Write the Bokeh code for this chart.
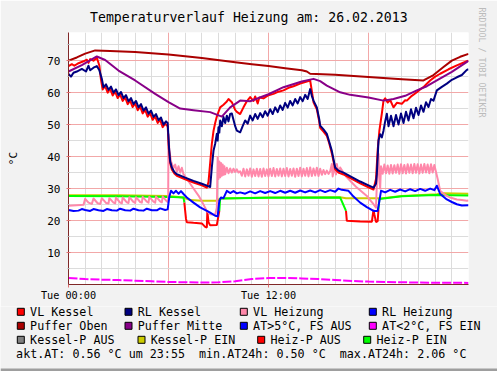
from bokeh.plotting import figure
from bokeh.models import Range1d, FixedTicker, Title
from bokeh.embed import file_html
from bokeh.resources import INLINE
from bokeh.core.properties import value

# ---------------- texts ----------------
TITLE = "Temperaturverlauf Heizung am: 26.02.2013"
Y_UNIT = "°C"
WATERMARK = "RRDTOOL / TOBI OETIKER"
INFO_LINE = "akt.AT: 0.56 °C um 23:55  min.AT24h: 0.50 °C  max.AT24h: 2.06 °C"

x_tick_hours = [0, 12]
x_tick_labels = ["Tue 00:00", "Tue 12:00"]
y_ticks = [10, 20, 30, 40, 50, 60, 70]
y_minor = [5, 15, 25, 35, 45, 55, 65, 75]

legend_labels = ["VL Kessel", "RL Kessel", "VL Heizung", "RL Heizung",
                 "Puffer Oben", "Puffer Mitte", "AT>5°C, FS AUS", "AT<2°C, FS EIN",
                 "Kessel-P AUS", "Kessel-P EIN", "Heiz-P AUS", "Heiz-P EIN"]
legend_colors = ["#FF0000", "#000080", "#FF88AA", "#0000FF",
                 "#AA0000", "#880088", "#0000FF", "#FF00FF",
                 "#808080", "#CCCC00", "#FF0000", "#00FF00"]

# ---------------- data: (hour, °C) ----------------
vl_kessel = [
    (0, 68.3), (0.2, 68.9), (0.35, 68.4), (0.6, 69.2), (0.9, 69.8), (1.1, 70.3), (1.2, 69.3), (1.3, 70.5), (1.5, 70.0), (1.7, 70.9),
    (1.85, 68.5), (1.95, 64.0), (2.05, 61.0), (2.2, 62.0), (2.35, 60.0), (2.5, 61.2), (2.65, 59.1), (2.8, 60.3), (2.95, 58.3), (3.1, 59.4),
    (3.25, 57.4), (3.4, 58.5), (3.55, 56.4), (3.7, 57.5), (3.85, 55.5), (4.0, 56.6), (4.15, 54.5), (4.3, 55.6), (4.45, 53.5), (4.6, 54.6),
    (4.75, 52.5), (4.9, 53.6), (5.05, 51.5), (5.2, 52.6), (5.35, 50.5), (5.5, 51.5), (5.65, 49.2), (5.8, 50.3), (5.95, 49.5), (6.02, 42.5),
    (6.1, 38.0), (6.2, 36.0), (6.35, 34.7), (6.5, 34.0), (7.0, 32.9), (7.5, 31.9), (8.0, 31.0), (8.3, 30.3), (8.4, 32.0), (8.5, 38.0),
    (8.6, 44.0), (8.7, 48.0), (8.8, 50.5), (8.9, 52.5), (9.0, 54.0), (9.1, 55.4), (9.3, 56.2), (9.5, 57.2), (9.6, 58.0), (9.8, 57.0),
    (10.0, 54.6), (10.1, 54.0), (10.3, 53.3), (10.5, 55.4), (10.7, 57.3), (10.9, 58.6), (11.1, 57.4), (11.2, 58.8), (11.35, 56.6), (11.45, 58.5),
    (11.7, 58.2), (12.0, 59.2), (12.3, 59.6), (12.6, 60.3), (12.9, 60.7), (13.2, 61.5), (13.5, 62.0), (13.9, 62.8), (14.2, 63.3), (14.5, 63.8),
    (14.6, 60.5), (14.7, 57.0), (14.9, 54.8), (15.05, 50.8), (15.1, 49.0), (15.3, 47.8), (15.5, 46.5), (15.65, 44.0), (15.8, 41.0), (16.0, 36.0),
    (16.2, 35.0), (16.5, 34.4), (17.0, 33.0), (17.5, 31.6), (18.0, 30.4), (18.3, 29.7), (18.45, 33.0), (18.55, 42.0), (18.65, 48.0), (18.8, 53.4),
    (18.9, 57.5), (19.0, 58.2), (19.15, 56.9), (19.3, 57.7), (19.5, 55.4), (19.7, 56.8), (20.0, 56.5), (20.2, 57.6), (20.3, 57.5), (20.6, 59.0),
    (20.9, 60.1), (21.1, 61.0), (21.3, 61.7), (21.5, 62.8), (21.7, 63.8), (22.0, 65.0), (22.3, 65.9), (22.8, 67.3), (23.3, 68.5), (23.9, 69.8), (24.0, 70.0)]

rl_kessel = [
    (0, 65.8), (0.15, 65.0), (0.3, 66.2), (0.5, 66.6), (0.8, 67.4), (1.05, 66.6), (1.2, 68.4), (1.3, 67.0), (1.5, 67.8), (1.7, 68.3),
    (1.85, 67.0), (2.0, 64.3), (2.1, 61.7), (2.25, 62.6), (2.4, 60.9), (2.55, 61.9), (2.7, 60.0), (2.85, 61.0), (3.0, 59.2), (3.15, 60.2),
    (3.3, 58.3), (3.45, 59.2), (3.6, 57.3), (3.75, 58.3), (3.9, 56.4), (4.05, 57.4), (4.2, 55.4), (4.35, 56.4), (4.5, 54.4), (4.65, 55.4),
    (4.8, 53.4), (4.95, 54.4), (5.1, 52.4), (5.25, 53.3), (5.4, 51.4), (5.55, 52.2), (5.7, 50.0), (5.85, 51.0), (5.95, 50.5), (6.03, 43.0),
    (6.1, 38.5), (6.2, 36.6), (6.35, 35.2), (6.5, 34.5), (7.0, 33.4), (7.5, 32.4), (8.0, 31.5), (8.3, 30.9), (8.5, 30.5), (8.6, 36.6),
    (8.7, 41.8), (8.8, 44.0), (8.9, 47.1), (8.95, 45.0), (9.0, 49.2), (9.05, 47.5), (9.1, 51.3), (9.2, 49.5), (9.3, 52.4), (9.4, 50.5),
    (9.5, 52.8), (9.6, 51.0), (9.7, 53.3), (9.8, 53.5), (10.0, 49.5), (10.1, 48.1), (10.3, 47.6), (10.45, 49.5), (10.6, 51.3), (10.75, 50.3),
    (10.9, 52.8), (11.05, 51.3), (11.2, 53.3), (11.35, 51.8), (11.5, 53.6), (11.65, 52.3), (11.8, 54.2), (11.95, 52.8), (12.1, 54.8), (12.25, 53.3),
    (12.4, 55.4), (12.55, 53.9), (12.7, 56.0), (12.85, 54.6), (13.0, 56.8), (13.15, 55.3), (13.3, 57.4), (13.45, 56.0), (13.6, 58.0), (13.75, 56.6),
    (13.9, 58.6), (14.05, 57.3), (14.2, 59.3), (14.35, 58.0), (14.5, 61.1), (14.6, 59.0), (14.7, 57.5), (14.9, 55.4), (15.05, 51.5), (15.1, 49.7),
    (15.3, 48.5), (15.5, 47.1), (15.65, 44.5), (15.8, 41.8), (16.0, 36.6), (16.2, 35.6), (16.5, 35.0), (17.0, 33.6), (17.5, 32.2), (18.0, 31.0),
    (18.3, 30.3), (18.45, 31.5), (18.5, 34.5), (18.6, 45.0), (18.7, 47.0), (18.8, 46.0), (18.9, 48.1), (19.0, 51.0), (19.1, 53.4), (19.2, 49.5),
    (19.35, 52.8), (19.5, 49.5), (19.65, 53.0), (19.8, 50.0), (19.95, 53.5), (20.1, 50.5), (20.25, 54.0), (20.4, 51.3), (20.55, 54.8), (20.7, 52.0),
    (20.85, 55.3), (21.0, 53.0), (21.15, 56.0), (21.3, 54.0), (21.45, 57.0), (21.6, 55.5), (21.75, 58.0), (21.9, 57.5), (22.1, 60.7), (22.4, 61.8),
    (22.7, 62.8), (23.0, 64.0), (23.3, 64.8), (23.6, 65.5), (23.9, 67.1), (24.0, 67.3)]

vl_heizung = [
    (0, 24.6), (0.5, 24.8), (0.9, 24.9), (1.0, 26.8), (1.2, 25.6), (1.4, 25.2), (1.5, 26.9), (1.75, 25.4), (1.9, 25.2), (2.0, 27.0),
    (2.25, 25.5), (2.4, 25.3), (2.45, 27.0), (2.7, 25.6), (2.8, 25.4), (2.85, 27.2), (3.1, 25.6), (3.2, 25.4), (3.25, 27.2), (3.5, 25.7),
    (3.6, 25.5), (3.65, 27.3), (3.9, 25.8), (4.0, 25.5), (4.05, 27.3), (4.3, 25.8), (4.4, 25.6), (4.45, 27.4), (4.7, 25.9), (4.8, 25.6),
    (4.85, 27.4), (5.1, 25.9), (5.2, 25.6), (5.25, 27.5), (5.5, 26.0), (5.6, 25.7), (5.65, 27.5), (5.9, 26.0), (5.98, 25.8), (6.0, 47.0),
    (6.05, 42.0), (6.15, 38.5), (6.3, 36.4), (6.4, 37.5), (6.5, 35.2), (6.6, 37.0), (6.7, 35.0), (6.8, 36.5), (6.9, 34.5), (7.2, 32.3),
    (7.5, 30.0), (7.8, 27.8), (8.0, 26.0), (8.3, 23.0), (8.5, 22.0), (8.8, 21.8), (8.9, 24.0), (8.95, 39.7), (9.0, 33.0), (9.05, 38.5),
    (9.1, 33.5), (9.15, 38.0), (9.2, 34.0), (9.25, 37.5), (9.3, 34.3), (9.35, 37.0), (9.4, 34.5), (9.5, 36.5), (9.6, 34.8), (9.7, 36.3),
    (9.8, 35.0), (9.9, 36.2), (10.0, 35.2), (10.1, 36.0), (10.2, 35.0), (10.3, 35.4), (10.4, 34.0), (10.5, 36.2), (10.6, 33.8), (10.7, 36.0),
    (10.8, 34.0), (10.9, 36.3), (11.0, 33.7), (11.1, 36.0), (11.2, 33.9), (11.3, 36.2), (11.4, 33.8), (11.5, 36.1), (11.6, 33.7), (11.7, 36.3),
    (11.8, 33.9), (11.9, 36.0), (12.0, 33.8), (12.1, 36.2), (12.2, 33.9), (12.3, 36.4), (12.4, 33.8), (12.5, 36.1), (12.6, 34.0), (12.7, 36.3),
    (12.8, 33.8), (12.9, 36.2), (13.0, 33.9), (13.1, 36.4), (13.2, 33.8), (13.3, 36.1), (13.4, 34.0), (13.5, 36.3), (13.6, 33.7), (13.7, 36.2),
    (13.8, 33.9), (13.9, 36.5), (14.0, 33.8), (14.1, 36.2), (14.2, 34.0), (14.3, 36.4), (14.4, 33.8), (14.5, 36.6), (14.6, 33.9), (14.7, 36.3),
    (14.8, 34.1), (14.9, 36.5), (15.0, 33.9), (15.1, 36.2), (15.2, 34.3), (15.3, 35.8), (15.4, 34.5), (15.5, 35.6), (15.6, 34.6), (15.7, 35.4),
    (15.8, 37.7), (15.85, 33.8), (15.95, 36.9), (16.05, 34.4), (16.1, 37.7), (16.2, 35.0), (16.3, 36.6), (16.45, 35.3), (16.7, 33.5), (17.0, 31.9),
    (17.3, 30.3), (17.6, 29.0), (17.9, 27.7), (18.1, 26.4), (18.3, 25.1), (18.45, 24.0), (18.55, 38.7), (18.6, 40.8), (18.65, 33.0), (18.7, 30.0),
    (18.75, 37.0), (18.85, 34.6), (18.95, 37.5), (19.05, 34.8), (19.15, 37.2), (19.25, 34.6), (19.35, 37.4), (19.45, 34.7), (19.55, 37.3), (19.65, 34.9),
    (19.75, 37.5), (19.85, 34.6), (19.95, 37.6), (20.05, 34.8), (20.15, 37.4), (20.25, 34.7), (20.35, 37.6), (20.45, 34.9), (20.55, 37.5), (20.65, 34.8),
    (20.75, 37.7), (20.85, 34.9), (20.95, 37.6), (21.05, 34.7), (21.15, 37.5), (21.25, 34.9), (21.35, 37.7), (21.45, 35.0), (21.55, 37.5), (21.65, 34.8),
    (21.75, 37.6), (21.85, 35.0), (21.95, 37.4), (22.05, 35.2), (22.15, 33.0), (22.3, 29.3), (22.6, 28.0), (22.9, 27.2), (23.3, 26.6), (23.6, 26.4),
    (23.9, 26.2), (24.0, 26.3)]

rl_heizung = [
    (0, 23.3), (0.3, 23.0), (0.6, 23.1), (0.8, 23.6), (1.0, 23.3), (1.3, 23.0), (1.5, 23.6), (1.8, 23.2), (2.1, 23.0), (2.3, 23.6),
    (2.6, 23.2), (2.9, 23.1), (3.1, 23.7), (3.4, 23.2), (3.7, 23.1), (3.9, 23.7), (4.2, 23.2), (4.5, 23.1), (4.7, 23.7), (5.0, 23.2),
    (5.3, 23.2), (5.5, 23.8), (5.8, 23.3), (5.95, 23.5), (6.05, 27.5), (6.15, 29.3), (6.3, 28.5), (6.45, 29.3), (6.6, 28.4), (6.75, 29.2),
    (6.9, 28.3), (7.1, 27.2), (7.5, 25.6), (7.9, 24.1), (8.5, 22.5), (8.8, 21.5), (8.95, 21.3), (9.05, 26.2), (9.15, 27.2), (9.3, 27.0),
    (9.5, 29.3), (9.7, 28.6), (9.9, 29.2), (10.1, 28.5), (10.3, 28.8), (10.6, 28.4), (10.9, 29.1), (11.2, 28.5), (11.5, 29.2), (11.8, 28.6),
    (12.1, 29.2), (12.4, 28.6), (12.7, 29.3), (13.0, 28.7), (13.3, 29.3), (13.6, 28.7), (13.9, 29.4), (14.2, 28.8), (14.5, 29.4), (14.8, 28.8),
    (15.1, 29.5), (15.4, 28.9), (15.7, 29.5), (16.0, 29.0), (16.2, 30.0), (16.4, 29.6), (16.8, 29.3), (17.1, 27.5), (17.5, 25.6), (17.9, 24.2),
    (18.3, 23.0), (18.55, 23.0), (18.65, 26.0), (18.75, 29.3), (19.0, 28.8), (19.3, 29.6), (19.6, 29.0), (19.9, 29.7), (20.2, 29.1), (20.5, 29.8),
    (20.8, 29.2), (21.1, 29.9), (21.4, 29.3), (21.7, 30.0), (21.95, 29.5), (22.1, 30.9), (22.3, 28.3), (22.7, 26.6), (23.0, 25.8), (23.3, 25.1),
    (23.6, 24.7), (24.0, 24.8)]

puffer_oben = [
    (0, 70.0), (0.5, 71.0), (1.0, 72.2), (1.6, 73.2), (2.5, 73.0), (4, 72.7), (6, 71.9), (8, 70.8), (10, 69.5), (11, 68.9),
    (12, 68.3), (13, 67.6), (14, 67.0), (14.3, 66.6), (14.5, 65.9), (16, 65.6), (18, 64.9), (20, 64.2), (21.3, 63.8), (21.9, 65.5),
    (22.5, 68.0), (23, 70.0), (23.5, 71.2), (24, 72.1)]

puffer_mitte = [
    (0, 66.6), (0.8, 68.6), (1.7, 71.3), (2.2, 70.2), (3.0, 66.9), (4.0, 63.8), (5.2, 59.6), (6.0, 57.0), (6.7, 55.0), (7.5, 54.5),
    (8.5, 53.9), (9.2, 52.5), (9.7, 55.4), (10.3, 57.5), (10.9, 57.3), (12.0, 59.5), (12.9, 61.7), (14.0, 63.5), (14.7, 64.3), (15.1, 63.6),
    (15.5, 62.2), (16.3, 60.1), (16.9, 59.3), (18.0, 58.5), (18.9, 57.5), (19.5, 58.0), (20.2, 59.0), (20.9, 60.7), (21.5, 62.0), (22.1, 63.8),
    (23.0, 66.5), (24, 69.9)]

aussen = [
    (0, 2.0), (1, 1.7), (2, 1.5), (3, 1.4), (4, 1.2), (5, 1.0), (6, 0.8), (7, 0.7), (8, 0.6), (9, 0.7),
    (10, 1.0), (11, 1.7), (12, 2.0), (13, 2.06), (14, 1.9), (15, 1.7), (16, 1.4), (17, 1.1), (18, 0.9), (19, 0.8),
    (20, 0.7), (21, 0.6), (22, 0.55), (23, 0.55), (24, 0.5)]

# pump lines: (hour, level, state of the following segment: 1 = EIN, 0 = AUS)
heiz_p = [
    (0, 27.7, 1), (3, 27.6, 1), (6, 27.4, 1), (6.9, 27.2, 1), (6.95, 25.6, 0), (7.05, 20.5, 0), (7.1, 19.5, 0), (7.5, 19.3, 0),
    (8.0, 19.1, 0), (8.2, 18.0, 0), (8.3, 17.8, 0), (8.33, 23.0, 0), (8.4, 19.5, 0), (8.5, 18.5, 0), (8.9, 18.6, 0), (9.05, 23.0, 1),
    (9.1, 26.9, 1), (12, 27.1, 1), (16.3, 27.2, 1), (16.65, 23.0, 0), (16.7, 19.9, 0), (17.5, 19.7, 0), (18.2, 19.6, 0), (18.3, 23.3, 0),
    (18.35, 22.0, 0), (18.45, 19.5, 0), (18.55, 19.8, 0), (18.6, 23.5, 1), (18.65, 26.7, 1), (20, 27.6, 1), (22, 28.0, 1), (24, 27.8, 1)]

kessel_p = [
    (0, 27.9, 1), (3, 27.9, 1), (6, 27.7, 1), (6.9, 27.2, 1), (7.3, 26.4, 1), (8.0, 26.2, 1), (8.9, 26.2, 1), (9.1, 26.9, 1),
    (12, 27.2, 1), (16.3, 27.3, 1), (16.65, 27.0, 1), (18.6, 27.0, 1), (18.7, 26.9, 1), (20, 27.7, 1), (22.1, 28.2, 1), (22.5, 28.5, 1),
    (24, 28.4, 1)]

# ---------------- styles / layout ----------------
FONT = "DejaVu Sans Mono"
BACK = "#F2F2F2"
SHADE_B = "#9E9E9E"
GRID = "#DCDCDC"
MGRID = "#F2A8A8"
AXIS = "#802828"
LW = 2

PAGE_W = 497
MAIN_H = 32 + 252 + 22      # main figure: page y 0 .. 306
LEG_TOP = MAIN_H
LEG_H = 371 - MAIN_H

p = figure(frame_width=400, frame_height=252,
           x_range=Range1d(0, 24), y_range=Range1d(0, 78.8),
           output_backend="svg", toolbar_location=None,
           min_border_left=68, min_border_right=29, min_border_top=32, min_border_bottom=22)
p.background_fill_color = "white"
p.border_fill_color = BACK
p.outline_line_color = None

# title and watermark
p.title.text = TITLE
p.title.align = "left"
p.title.offset = 21.5
p.title.standoff = 14.5
p.title.text_font = FONT
p.title.text_font_size = "13.2px"
p.title.text_font_style = "normal"
p.title.text_color = "black"
p.add_layout(Title(text=WATERMARK, align="left", offset=-25, standoff=16, text_font=FONT,
                   text_font_size="8.3px", text_font_style="normal", text_color="#BBBBBB"), "right")

# axes
p.xaxis.ticker = FixedTicker(ticks=x_tick_hours, minor_ticks=[])
p.xaxis.major_label_overrides = {h: lab for h, lab in zip(x_tick_hours, x_tick_labels)}
p.yaxis.ticker = FixedTicker(ticks=y_ticks, minor_ticks=y_minor)
for ax in (p.xaxis[0], p.yaxis[0]):
    ax.axis_line_color = AXIS
    ax.axis_line_width = 1
    ax.major_label_text_font = FONT
    ax.major_label_text_color = "black"
p.xaxis.major_label_text_font_size = "10.2px"
p.yaxis.major_label_text_font_size = "11px"
p.xaxis.major_tick_in = 0
p.xaxis.major_tick_out = 3
p.xaxis.major_tick_line_color = "#E07070"
p.xaxis.major_label_standoff = 2
p.yaxis.major_tick_in = 2
p.yaxis.major_tick_out = 2
p.yaxis.minor_tick_in = 1
p.yaxis.minor_tick_out = 1
p.yaxis.major_tick_line_color = "#E07070"
p.yaxis.minor_tick_line_color = "#B0B0B0"
p.yaxis.major_label_standoff = 6
p.yaxis.axis_label = Y_UNIT
p.yaxis.axis_label_text_font = FONT
p.yaxis.axis_label_text_font_size = "11px"
p.yaxis.axis_label_text_font_style = "normal"
p.yaxis.axis_label_text_color = "black"
p.yaxis.axis_label_standoff = 24

# grid
p.xgrid.ticker = FixedTicker(ticks=[6, 12, 18], minor_ticks=list(range(1, 24)))
p.ygrid.ticker = FixedTicker(ticks=y_ticks, minor_ticks=y_minor)
for g in (p.xgrid[0], p.ygrid[0]):
    g.grid_line_color = MGRID
    g.grid_line_width = 1
    g.minor_grid_line_color = GRID
    g.minor_grid_line_width = 1


def xy(series):
    return [s[0] for s in series], [s[1] for s in series]


def state_segments(series):
    segs = {1: ([], []), 0: ([], [])}
    cur_state, xs, ys = None, [], []
    for i in range(len(series) - 1):
        st = series[i][2]
        if st != cur_state:
            if cur_state is not None:
                segs[cur_state][0].append(xs)
                segs[cur_state][1].append(ys)
            cur_state, xs, ys = st, [series[i][0]], [series[i][1]]
        xs.append(series[i + 1][0])
        ys.append(series[i + 1][1])
    segs[cur_state][0].append(xs)
    segs[cur_state][1].append(ys)
    return segs


kp = state_segments(kessel_p)
for st, col in ((1, legend_colors[9]), (0, legend_colors[8])):
    if kp[st][0]:
        p.multi_line(kp[st][0], kp[st][1], line_color=col, line_width=LW)
hp = state_segments(heiz_p)
for st, col in ((1, legend_colors[11]), (0, legend_colors[10])):
    if hp[st][0]:
        p.multi_line(hp[st][0], hp[st][1], line_color=col, line_width=LW)

for series, col in ((vl_heizung, legend_colors[2]), (rl_heizung, legend_colors[3]),
                    (vl_kessel, legend_colors[0]), (rl_kessel, legend_colors[1]),
                    (puffer_oben, legend_colors[4]), (puffer_mitte, legend_colors[5])):
    xs, ys = xy(series)
    p.line(xs, ys, line_color=col, line_width=LW, line_join="round")

xs, ys = xy(aussen)
p.line(xs, ys, line_color=legend_colors[7], line_width=LW, line_dash="9 2")

# ---------------- legend panel (page pixel coordinates) ----------------
leg = figure(width=PAGE_W, height=LEG_H, x_range=Range1d(0, PAGE_W),
             y_range=Range1d(LEG_TOP + LEG_H, LEG_TOP),
             output_backend="svg", toolbar_location=None,
             x_axis_location=None, y_axis_location=None, min_border=0)
leg.grid.visible = False
leg.background_fill_color = BACK
leg.border_fill_color = BACK
leg.outline_line_color = None

sq_left = [16.3, 124, 239.3, 368.3, 16.3, 124, 239.3, 368.3, 16.3, 137, 256.7, 362.7]
row_y = [311.3] * 4 + [325.3] * 4 + [339.3] * 4
leg.rect([x + 4 for x in sq_left], row_y, width=7, height=7,
         fill_color=legend_colors, line_color="black", line_width=1)
leg.text([x + 13.3 for x in sq_left], row_y, text=legend_labels,
         text_font=value(FONT), text_font_size="11.7px", text_baseline="middle",
         text_align="left", text_color="black")
leg.text([15.6], [353], text=[INFO_LINE.replace("  ", " \u00a0")],
         text_font=value(FONT), text_font_size="11.7px", text_baseline="middle",
         text_align="left", text_color="black")
# darker bevel along the image's bottom edge
leg.quad(left=[0], right=[PAGE_W], top=[368], bottom=[371], fill_color=SHADE_B, line_color=None)

open("out.html", "w").write(file_html([p, leg], INLINE))
